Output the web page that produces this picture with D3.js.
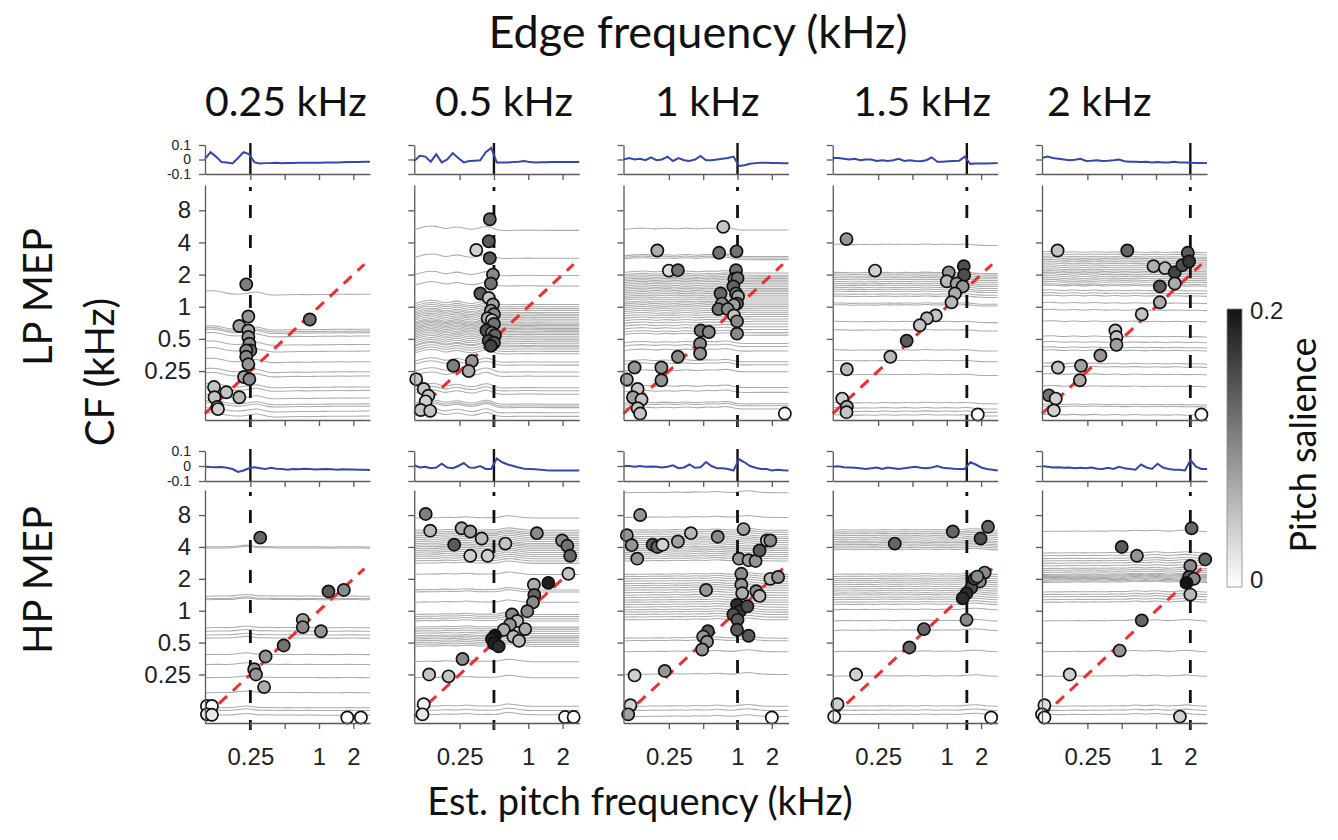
<!DOCTYPE html>
<html><head><meta charset="utf-8">
<script src="https://cdn.jsdelivr.net/npm/d3@7"></script>
<style>
body{margin:0;background:#fff}
.tk text{font-family:Arial,"Liberation Sans",sans-serif;fill:#222}
.title{font-family:Lato,"Open Sans",sans-serif;fill:#111}
</style>
</head><body><svg id="c" width="1338" height="840"></svg>
<script>
// ---------------- DATA ----------------
const edgeFreqs = [0.25, 0.5, 1, 1.5, 2];
const colTitles = ["0.25 kHz", "0.5 kHz", "1 kHz", "1.5 kHz", "2 kHz"];
const rowTitles = ["LP MEP", "HP MEP"];
const yTicks = [0.25, 0.5, 1, 2, 4, 8];
const yTickLabels = ["0.25", "0.5", "1", "2", "4", "8"];
const xTicks = [0.25, 0.5, 1, 2];
const xTickLabels = ["0.25", "", "1", "2"];
const waveTicks = [0.1, 0, -0.1];
const waveTickLabels = ["0.1", "0", "-0.1"];

// waveforms (evenly sampled across panel width)
const lp025Wave = [0.004,0.05,0.02,-0.017,-0.02,-0.027,0.01,0.05,0.037,-0.02,-0.027,-0.025,-0.024,-0.022,-0.025,-0.024,-0.024,-0.023,-0.022,-0.023,-0.022,-0.022,-0.021,-0.02,-0.02,-0.019,-0.018,-0.018,-0.017,-0.016,-0.015];
const lp05Wave = [-0.01,0.025,0.02,-0.015,0.036,-0.02,0.0,0.044,0.01,-0.02,-0.01,-0.008,-0.006,0.05,0.08,-0.02,-0.02,-0.02,-0.018,-0.015,-0.01,-0.018,-0.02,-0.019,-0.019,-0.018,-0.018,-0.018,-0.017,-0.018,-0.018];
const lp1Wave = [0.0,0.01,0.0,0.005,-0.005,0.015,-0.005,0.0,0.02,-0.01,0.01,-0.005,-0.01,0.0,0.025,-0.005,-0.005,0.0,0.005,0.01,0.02,-0.045,-0.04,-0.03,-0.025,-0.022,-0.022,-0.024,-0.024,-0.025,-0.025];
const lp15Wave = [0.01,0.01,0.005,0.0,0.005,-0.005,0.0,0.0,-0.01,-0.005,-0.01,-0.005,0.005,-0.01,-0.005,-0.01,-0.012,-0.005,0.015,-0.015,-0.015,-0.012,-0.01,-0.008,0.02,-0.03,-0.028,-0.027,-0.027,-0.026,-0.025];
const lp2Wave = [0.01,0.02,0.01,0.005,0.0,-0.005,-0.002,0.005,-0.01,-0.008,-0.005,-0.01,-0.008,-0.005,0.0,-0.012,-0.015,-0.015,-0.018,-0.015,-0.02,-0.018,-0.02,-0.02,-0.016,-0.02,-0.02,-0.022,-0.024,-0.024,-0.025];
const hp025Wave = [-0.005,-0.007,-0.008,-0.006,-0.012,-0.02,-0.04,-0.03,-0.015,-0.008,-0.015,-0.02,-0.012,-0.018,-0.02,-0.025,-0.02,-0.022,-0.018,-0.02,-0.024,-0.022,-0.02,-0.022,-0.025,-0.022,-0.024,-0.024,-0.025,-0.025,-0.026];
const hp05Wave = [0.005,-0.01,-0.005,-0.015,-0.01,0.015,-0.01,-0.015,0.0,0.02,-0.01,-0.012,0.0,-0.02,-0.02,0.05,0.025,0.01,0.0,-0.01,-0.018,-0.02,-0.022,-0.025,-0.028,-0.03,-0.03,-0.03,-0.03,-0.03,-0.03];
const hp1Wave = [0.0,0.0,-0.005,0.0,-0.005,-0.004,-0.005,-0.01,-0.005,0.005,-0.015,-0.01,0.01,-0.012,-0.008,0.027,0.0,-0.015,-0.015,-0.02,-0.03,0.045,0.025,0.0,-0.012,-0.02,-0.02,-0.03,-0.025,-0.028,-0.03];
const hp15Wave = [-0.005,-0.002,-0.008,-0.01,-0.012,-0.015,-0.02,-0.015,-0.01,-0.02,-0.01,-0.015,-0.02,-0.015,-0.01,-0.005,-0.012,-0.015,-0.01,0.0,-0.012,-0.015,-0.018,-0.02,-0.02,0.025,0.01,-0.01,-0.02,-0.025,-0.03];
const hp2Wave = [0.0,-0.005,-0.01,-0.008,-0.012,-0.01,-0.015,-0.012,-0.015,-0.01,-0.018,-0.02,-0.012,-0.02,-0.005,-0.015,-0.02,-0.025,0.01,-0.01,-0.02,0.015,-0.01,-0.02,-0.025,-0.025,-0.03,0.04,-0.005,-0.02,-0.02];

// CF levels of grey neural traces (kHz)
const lp025Levels = [1.33,0.625,0.6,0.58,0.54,0.45,0.39,0.31,0.25,0.228,0.18,0.167,0.142,0.125,0.119,0.107,0.096];
const lp05Levels = [5.3,2.9,2.0,1.6,1.07,1.02,0.98,0.94,0.9,0.87,0.84,0.81,0.78,0.75,0.72,0.7,0.68,0.66,0.64,0.62,0.6,0.58,0.56,0.54,0.52,0.5,0.48,0.46,0.44,0.43,0.41,0.39,0.37,0.31,0.29,0.25,0.228,0.178,0.167,0.155,0.125,0.12,0.116,0.104,0.096];
const lp1Levels = [5.3,3.0,2.9,2.8,2.1,2.0,1.93,1.86,1.8,1.74,1.68,1.62,1.56,1.5,1.45,1.4,1.35,1.3,1.25,1.2,1.15,1.1,1.06,1.02,0.98,0.94,0.9,0.86,0.82,0.78,0.74,0.7,0.66,0.62,0.58,0.55,0.46,0.43,0.39,0.31,0.29,0.25,0.178,0.16,0.125,0.12,0.112];
const lp15Levels = [3.8,2.07,2.0,1.92,1.85,1.78,1.7,1.63,1.57,1.5,1.44,1.38,1.3,1.24,1.07,1.03,0.72,0.6,0.39,0.31,0.23,0.125,0.112,0.104,0.096];
const lp2Levels = [3.2,3.05,2.9,2.8,2.7,2.6,2.5,2.4,2.3,2.2,2.12,2.05,1.98,1.9,1.82,1.75,1.68,1.6,1.55,1.4,1.32,1.25,1.07,0.92,0.72,0.52,0.46,0.41,0.385,0.29,0.27,0.23,0.178,0.12,0.115,0.096];
const hp025Levels = [4.0,3.9,1.37,1.3,1.27,0.69,0.64,0.59,0.55,0.385,0.31,0.233,0.168,0.121,0.114,0.103];
const hp05Levels = [7.5,5.75,5.5,5.3,5.1,4.9,4.7,4.5,4.3,4.15,4.0,3.85,3.7,3.55,3.4,3.25,3.1,2.95,2.8,2.2,1.57,1.5,1.2,0.92,0.88,0.84,0.8,0.7,0.67,0.64,0.61,0.58,0.56,0.54,0.52,0.5,0.48,0.46,0.33,0.233,0.125,0.114,0.104];
const hp1Levels = [13,7.6,5.75,5.5,5.25,5.0,4.8,4.6,4.4,4.2,4.0,3.85,3.7,3.55,3.4,3.25,3.1,2.95,2.2,2.1,2.0,1.9,1.8,1.72,1.64,1.56,1.48,1.4,1.33,1.26,1.2,1.14,1.08,1.02,0.97,0.92,0.87,0.82,0.55,0.52,0.41,0.25,0.125,0.114,0.1];
const hp15Levels = [5.75,5.5,5.3,5.1,4.9,4.7,4.5,4.35,4.2,4.05,3.9,3.75,2.2,2.1,2.0,1.92,1.84,1.76,1.68,1.6,1.53,1.46,1.4,1.33,1.27,1.2,1.14,1.02,0.8,0.65,0.41,0.24,0.125,0.114,0.104];
const hp2Levels = [5.6,3.5,3.3,3.1,2.95,2.8,2.65,2.5,2.4,2.3,2.2,2.15,2.1,2.05,2.0,1.95,1.9,1.85,1.5,1.42,1.35,1.27,1.2,0.8,0.41,0.24,0.125,0.114,0.104];

// shared ripple of the traces in each panel (octaves, evenly sampled)
const lp025Ripple = [0.08,0.1,0.0,-0.03,0.0,0.08,-0.05,-0.05,-0.04,-0.03,-0.04,-0.03,-0.03,-0.02,-0.03,-0.02,-0.02];
const lp05Ripple = [0.0,0.1,0.12,-0.02,0.12,0.0,0.0,0.15,-0.05,-0.03,-0.03,-0.02,-0.03,-0.03,-0.03,-0.03,-0.03];
const lp1Ripple = [0.0,0.03,0.05,0.0,0.05,0.0,0.06,0.0,0.05,0.02,0.08,-0.03,-0.02,-0.02,-0.02,-0.02,-0.02];
const lp15Ripple = [0.02,0.02,0.0,0.02,0.0,0.03,0.0,0.03,0.0,0.04,0.0,0.03,0.0,0.04,-0.02,-0.02,-0.02];
const lp2Ripple = [0.03,0.05,0.0,0.05,0.0,0.05,0.0,0.04,0.0,0.04,0.0,0.03,0.0,0.03,0.0,0.02,0.0];
const hp025Ripple = [0.0,0.01,0.0,0.02,0.08,0.0,0.02,0.0,0.01,0.0,0.01,0.0,0.0,0.0,0.01,0.0,0.0];
const hp05Ripple = [0.0,0.02,0.0,0.04,0.0,0.06,0.0,0.02,0.0,0.1,0.04,0.0,0.0,0.0,0.0,0.0,0.0];
const hp1Ripple = [0.0,0.01,0.0,0.02,0.0,0.03,0.0,0.04,0.0,0.06,0.0,0.02,0.08,0.02,0.0,0.0,0.0];
const hp15Ripple = [0.0,0.02,0.0,0.02,0.0,0.03,0.0,0.03,0.0,0.04,0.0,0.03,0.0,0.04,0.06,0.01,0.0];
const hp2Ripple = [0.0,0.01,0.0,0.02,0.0,0.02,0.0,0.03,0.0,0.06,0.0,0.06,0.0,0.02,0.06,0.01,0.0];

// points: [est. pitch kHz, CF kHz, pitch salience]
const lp025Points = [[0.23,1.62,0.11],[0.24,0.81,0.09],[0.2,0.66,0.08],[0.24,0.6,0.08],[0.24,0.52,0.09],[0.245,0.45,0.1],[0.25,0.39,0.12],[0.23,0.39,0.1],[0.23,0.34,0.1],[0.24,0.29,0.09],[0.22,0.22,0.08],[0.245,0.21,0.1],[0.83,0.76,0.12],[0.12,0.177,0.05],[0.154,0.158,0.05],[0.2,0.142,0.06],[0.121,0.142,0.05],[0.128,0.115,0.05],[0.13,0.11,0.04]];
const lp05Points = [[0.46,6.6,0.13],[0.45,4.1,0.14],[0.35,3.4,0.04],[0.46,2.85,0.14],[0.49,2.0,0.1],[0.47,1.65,0.12],[0.38,1.33,0.14],[0.45,1.21,0.05],[0.49,1.05,0.08],[0.47,0.92,0.09],[0.5,0.85,0.1],[0.44,0.78,0.07],[0.48,0.75,0.05],[0.5,0.69,0.12],[0.43,0.6,0.15],[0.48,0.57,0.11],[0.51,0.54,0.13],[0.45,0.48,0.15],[0.5,0.46,0.14],[0.47,0.43,0.16],[0.32,0.31,0.09],[0.3,0.25,0.07],[0.22,0.28,0.11],[0.104,0.21,0.05],[0.121,0.17,0.05],[0.133,0.147,0.05],[0.126,0.13,0.04],[0.114,0.108,0.05],[0.138,0.106,0.05]];
const lp1Points = [[0.75,5.6,0.05],[0.198,3.36,0.07],[0.69,3.2,0.12],[0.98,3.3,0.12],[0.25,2.18,0.03],[0.3,2.2,0.12],[0.97,2.2,0.12],[0.94,1.82,0.1],[1.0,1.85,0.12],[0.92,1.55,0.13],[0.97,1.33,0.11],[0.71,1.33,0.13],[1.01,1.25,0.08],[0.73,1.07,0.1],[0.99,1.07,0.13],[0.93,1.04,0.08],[0.68,0.95,0.12],[0.82,0.95,0.1],[0.93,0.83,0.05],[0.99,0.73,0.1],[0.99,0.56,0.1],[0.475,0.6,0.12],[0.56,0.58,0.1],[0.47,0.45,0.1],[0.47,0.365,0.09],[0.3,0.34,0.1],[0.215,0.27,0.09],[0.125,0.27,0.09],[0.215,0.205,0.09],[0.107,0.208,0.08],[0.133,0.17,0.05],[0.121,0.142,0.08],[0.144,0.135,0.05],[0.133,0.112,0.05],[0.14,0.1,0.05],[2.6,0.1,0.0]];
const lp15Points = [[0.132,4.3,0.09],[0.235,2.18,0.04],[1.04,2.1,0.09],[1.41,2.4,0.15],[1.42,1.98,0.15],[1.0,1.73,0.06],[1.22,1.65,0.08],[1.38,1.55,0.09],[1.18,1.33,0.07],[1.1,1.1,0.06],[0.8,0.83,0.05],[0.67,0.78,0.06],[0.58,0.67,0.05],[0.445,0.48,0.14],[0.32,0.34,0.06],[0.133,0.26,0.06],[0.121,0.138,0.04],[0.133,0.116,0.07],[0.132,0.103,0.05],[1.87,0.098,0.0]];
const lp2Points = [[0.137,3.36,0.05],[0.56,3.36,0.13],[0.95,2.4,0.07],[1.2,2.3,0.06],[1.46,2.1,0.16],[1.7,2.45,0.15],[1.9,3.2,0.14],[1.95,2.65,0.17],[1.46,1.65,0.07],[1.08,1.55,0.14],[1.08,1.1,0.07],[0.75,0.85,0.05],[0.44,0.6,0.05],[0.45,0.52,0.05],[0.45,0.44,0.08],[0.325,0.35,0.09],[0.22,0.28,0.08],[0.138,0.27,0.05],[0.215,0.205,0.07],[0.115,0.148,0.12],[0.132,0.138,0.04],[0.127,0.107,0.04],[2.5,0.098,0.0]];
const hp025Points = [[0.305,4.9,0.13],[1.21,1.52,0.14],[1.65,1.57,0.1],[0.72,0.82,0.08],[0.72,0.7,0.1],[1.04,0.64,0.09],[0.49,0.47,0.12],[0.34,0.37,0.09],[0.27,0.28,0.09],[0.28,0.25,0.09],[0.33,0.19,0.07],[0.104,0.126,0.0],[0.115,0.126,0.0],[0.104,0.105,0.02],[0.115,0.104,0.02],[1.77,0.098,0.0],[2.33,0.098,0.0]];
const hp05Points = [[0.126,8.2,0.11],[0.138,5.7,0.06],[0.26,6.0,0.07],[0.31,5.6,0.08],[0.39,4.8,0.06],[0.224,4.2,0.14],[0.31,3.3,0.04],[0.44,3.3,0.04],[0.63,4.3,0.05],[1.19,5.4,0.1],[1.98,4.6,0.1],[2.2,4.1,0.12],[2.33,3.3,0.13],[2.25,2.23,0.05],[1.5,1.83,0.19],[1.12,1.76,0.07],[1.13,1.41,0.13],[1.1,1.2,0.1],[0.98,0.99,0.1],[0.72,0.92,0.1],[0.8,0.8,0.06],[0.69,0.74,0.09],[0.94,0.67,0.07],[0.61,0.66,0.07],[0.74,0.57,0.06],[0.83,0.52,0.06],[0.51,0.58,0.2],[0.48,0.54,0.19],[0.5,0.49,0.19],[0.55,0.46,0.18],[0.265,0.35,0.1],[0.135,0.25,0.05],[0.2,0.24,0.05],[0.121,0.131,0.01],[0.118,0.105,0.02],[2.1,0.099,0.0],[2.5,0.099,0.0]];
const hp1Points = [[0.14,8.0,0.09],[0.107,5.17,0.09],[0.118,4.16,0.09],[0.132,3.1,0.09],[0.18,4.2,0.14],[0.198,4.0,0.13],[0.22,4.2,0.04],[0.3,4.5,0.08],[0.39,5.4,0.06],[0.67,5.0,0.1],[1.13,5.9,0.08],[1.03,3.1,0.09],[1.25,3.0,0.08],[1.44,2.95,0.09],[1.56,3.7,0.14],[1.81,4.6,0.05],[1.94,4.6,0.1],[0.53,1.57,0.09],[1.08,2.23,0.1],[1.08,1.76,0.09],[1.1,1.46,0.07],[1.46,1.53,0.1],[1.56,1.38,0.06],[1.94,2.0,0.06],[2.27,2.08,0.09],[0.99,1.14,0.18],[1.05,0.99,0.17],[1.22,1.1,0.15],[0.92,0.92,0.15],[1.0,0.82,0.14],[0.99,0.66,0.14],[1.25,0.58,0.14],[0.55,0.64,0.14],[0.5,0.57,0.09],[0.54,0.51,0.09],[0.49,0.43,0.09],[0.23,0.27,0.09],[0.125,0.245,0.04],[0.115,0.128,0.04],[0.11,0.105,0.08],[2.0,0.098,0.0]];
const hp15Points = [[0.35,4.3,0.13],[1.13,5.6,0.13],[1.98,4.8,0.15],[2.3,6.2,0.13],[2.15,2.29,0.1],[1.95,1.89,0.1],[1.64,1.65,0.15],[1.75,2.0,0.16],[1.85,2.1,0.1],[1.49,1.46,0.18],[1.38,1.31,0.18],[1.49,0.82,0.1],[0.63,0.67,0.13],[0.47,0.45,0.13],[0.16,0.25,0.04],[0.11,0.131,0.04],[0.103,0.1,0.01],[2.45,0.098,0.0]];
const hp2Points = [[2.05,6.0,0.13],[0.5,4.0,0.14],[0.68,3.3,0.09],[2.7,3.05,0.13],[2.0,2.65,0.1],[1.95,2.08,0.14],[2.15,2.0,0.1],[1.85,1.83,0.2],[2.0,1.42,0.06],[0.75,0.81,0.13],[0.48,0.42,0.09],[0.175,0.25,0.04],[0.105,0.128,0.03],[0.1,0.105,0.01],[0.105,0.098,0.0],[1.62,0.1,0.04]];

// ---------------- LAYOUT ----------------
const svg = d3.select("#c");
const PW = 165;
const colLeft = [205, 414.25, 623.5, 832.75, 1042];
const titleX = [205, 435, 655, 853, 1047];
const rowGeo = [
  {wTop:145, wBot:174, top:185, bot:420},
  {wTop:451, wBot:481, top:490, bot:723}
];
const panels = [
  [[lp025Wave,lp025Levels,lp025Ripple,lp025Points],[lp05Wave,lp05Levels,lp05Ripple,lp05Points],[lp1Wave,lp1Levels,lp1Ripple,lp1Points],[lp15Wave,lp15Levels,lp15Ripple,lp15Points],[lp2Wave,lp2Levels,lp2Ripple,lp2Points]],
  [[hp025Wave,hp025Levels,hp025Ripple,hp025Points],[hp05Wave,hp05Levels,hp05Ripple,hp05Points],[hp1Wave,hp1Levels,hp1Ripple,hp1Points],[hp15Wave,hp15Levels,hp15Ripple,hp15Points],[hp2Wave,hp2Levels,hp2Ripple,hp2Points]]
];
const gray = d3.scaleLinear().domain([0, 0.2]).range(["#ffffff", "#141414"]).clamp(true);
const axisColor = "#5a5a5a";

function styleAxis(g, fs) {
  g.attr("class", "tk");
  g.select(".domain").attr("stroke", axisColor).attr("stroke-width", 1.3);
  g.selectAll(".tick line").attr("stroke", axisColor).attr("stroke-width", 1.3);
  g.selectAll(".tick text").attr("font-size", fs);
}

rowGeo.forEach((rg, r) => {
  edgeFreqs.forEach((ef, c) => {
    const [wave, levels, ripple, pts] = panels[r][c];
    const L = colLeft[c];
    const x = d3.scaleLog().domain([0.1, 2.8]).range([L, L + PW]);
    const y = d3.scaleLog().domain([0.087, 13.8]).range([rg.bot, rg.top]);
    const wy = d3.scaleLinear().domain([-0.1, 0.1]).range([rg.wBot, rg.wTop]);
    const wx = d3.scaleLinear().domain([0, wave.length - 1]).range([L, L + PW]);
    const rx = d3.scaleLinear().domain([0, ripple.length - 1]).range([L + 1, L + PW]);
    const g = svg.append("g");

    // grey traces
    const tline = d3.line().curve(d3.curveBasis);
    g.append("g").selectAll("path").data(levels).join("path")
      .attr("d", lv => tline(ripple.map((rp, i) => [rx(i), y(lv * Math.pow(2, rp))])))
      .attr("fill", "none").attr("stroke", "#acacac").attr("stroke-width", 1.05);

    // identity line
    g.append("line")
      .attr("x1", x(0.1)).attr("y1", y(0.1)).attr("x2", x(2.5)).attr("y2", y(2.5))
      .attr("stroke", "#ec2f2f").attr("stroke-width", 3).attr("stroke-dasharray", "11,8");

    // edge line: solid in waveform panel, dashed in scatter panel
    g.append("line").attr("x1", x(ef)).attr("x2", x(ef)).attr("y1", rg.wTop - 2).attr("y2", rg.wBot)
      .attr("stroke", "#111").attr("stroke-width", 2.4);
    g.append("line").attr("x1", x(ef)).attr("x2", x(ef)).attr("y1", rg.top + 2).attr("y2", rg.bot + 7)
      .attr("stroke", "#111").attr("stroke-width", 2.8).attr("stroke-dasharray", "4,14,13,17,13,17,13,17,13,17,13,17,13,17,13,17,13,17");

    // points
    g.append("g").selectAll("circle").data(pts).join("circle")
      .attr("cx", d => x(d[0])).attr("cy", d => y(d[1])).attr("r", 6.1)
      .attr("fill", d => gray(d[2])).attr("stroke", "#111").attr("stroke-width", 1.7);

    // waveform
    g.append("path").datum(wave)
      .attr("d", d3.line().x((v, i) => wx(i)).y(v => wy(v)))
      .attr("fill", "none").attr("stroke", "#3546ad").attr("stroke-width", 2);

    // axes
    const ax = g.append("g").attr("transform", `translate(${L},0)`)
      .call(d3.axisLeft(y).tickValues(yTicks).tickSize(6).tickSizeOuter(0).tickPadding(8)
        .tickFormat((d, i) => c === 0 ? yTickLabels[i] : ""));
    styleAxis(ax, 24);
    const bx = g.append("g").attr("transform", `translate(0,${rg.bot})`)
      .call(d3.axisBottom(x).tickValues(xTicks).tickSize(6).tickSizeOuter(0).tickPadding(36)
        .tickFormat((d, i) => r === 1 ? xTickLabels[i] : ""));
    styleAxis(bx, 24);
    bx.selectAll(".tick text").attr("dy", "0");
    const wax = g.append("g").attr("transform", `translate(${L},0)`)
      .call(d3.axisLeft(wy).tickValues(waveTicks).tickSize(6).tickSizeOuter(0).tickPadding(8)
        .tickFormat((d, i) => c === 0 ? waveTickLabels[i] : ""));
    styleAxis(wax, 14);
    const wbx = g.append("g").attr("transform", `translate(0,${rg.wBot})`)
      .call(d3.axisBottom(x).tickValues(xTicks).tickSize(6).tickSizeOuter(0).tickFormat(""));
    styleAxis(wbx, 14);
  });
});

// titles
const T = (txt, x, y, fs, rot, anchor) => svg.append("text").attr("class", "title")
  .attr("transform", `translate(${x},${y})${rot ? " rotate(-90)" : ""}`)
  .attr("text-anchor", anchor || "middle").attr("font-size", fs).text(txt);
T("Edge frequency (kHz)", 698, 48, 45, false);
colTitles.forEach((t, i) => T(t, titleX[i], 116, 41, false, "start"));
T("Est. pitch frequency (kHz)", 640, 815, 38, false);
T(rowTitles[0], 52, 297, 40, true);
T("CF (kHz)", 114, 372, 40, true);
T(rowTitles[1], 52, 580, 40, true);
T("Pitch salience", 1316, 445, 36, true);

// colorbar
const defs = svg.append("defs");
const grad = defs.append("linearGradient").attr("id", "cb").attr("x1", 0).attr("y1", 1).attr("x2", 0).attr("y2", 0);
grad.selectAll("stop").data([0, 0.05, 0.1, 0.15, 0.2]).join("stop")
  .attr("offset", d => d / 0.2).attr("stop-color", d => gray(d));
const cbY = d3.scaleLinear().domain([0, 0.2]).range([587, 309]);
svg.append("rect").attr("x", 1227).attr("y", cbY(0.2)).attr("width", 15).attr("height", cbY(0) - cbY(0.2))
  .attr("fill", "url(#cb)").attr("stroke", "#888").attr("stroke-width", 0.8);
const cbl = svg.append("g").attr("class", "tk");
cbl.selectAll("text").data([0, 0.2]).join("text")
  .attr("x", 1250).attr("y", d => cbY(d) + (d === 0 ? -7 : 2)).attr("dy", "0.35em")
  .attr("font-size", 24).attr("fill", "#333").text(d => d === 0 ? "0" : "0.2");
</script>
</body></html>
